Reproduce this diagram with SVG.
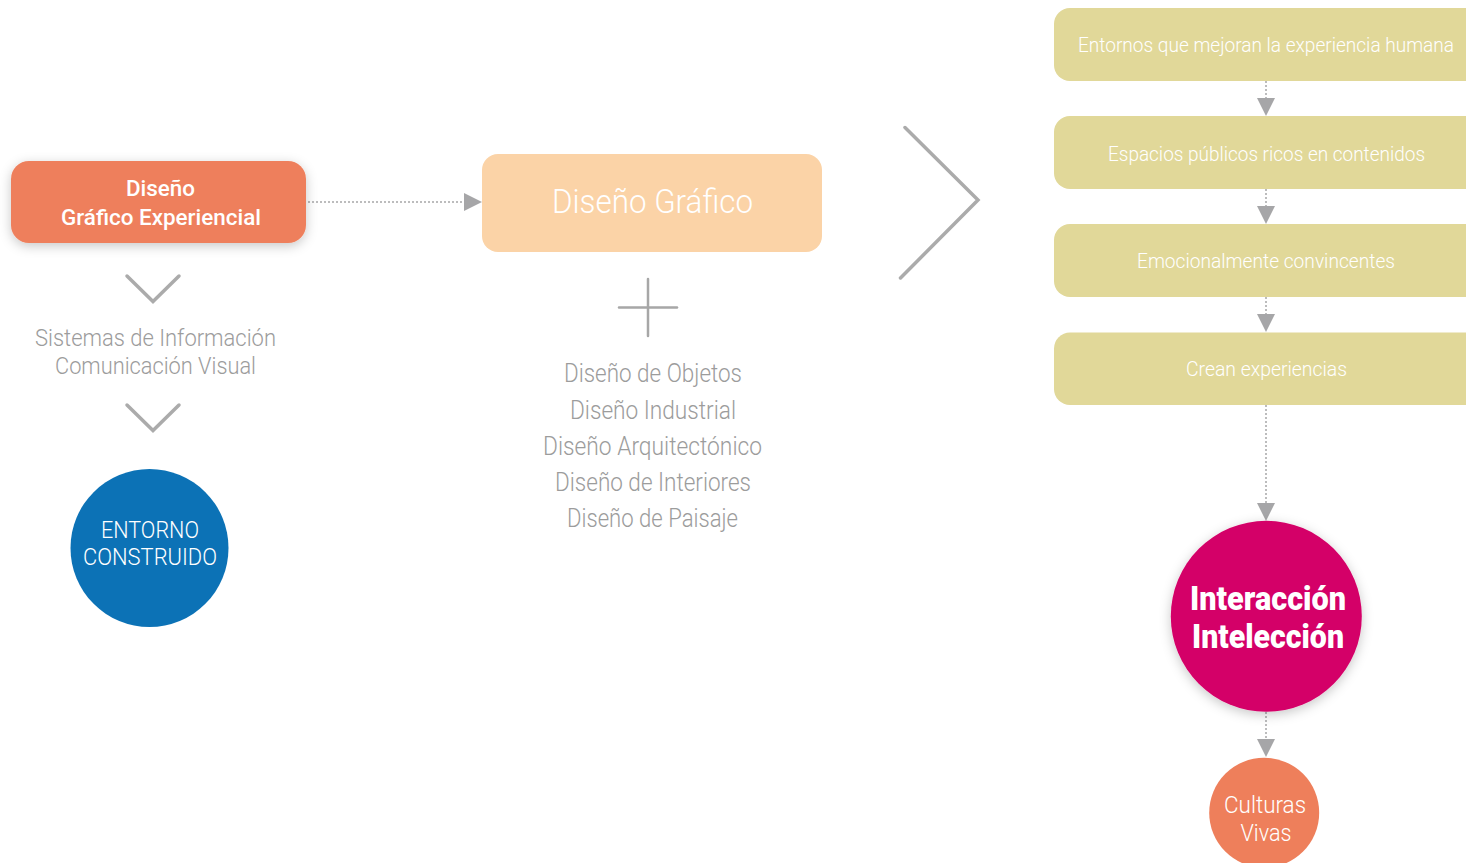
<svg xmlns="http://www.w3.org/2000/svg" width="1466" height="863" viewBox="0 0 1466 863">
  <defs>
    <filter id="shadow" x="-20%" y="-30%" width="140%" height="160%">
      <feDropShadow dx="0" dy="3" stdDeviation="6" flood-color="#000" flood-opacity="0.22"/>
    </filter>
    <marker id="tri" viewBox="0 0 20 18" refX="0" refY="9" markerWidth="20" markerHeight="18" markerUnits="userSpaceOnUse" orient="auto">
      <path d="M0,0 L18,9 L0,18 Z" fill="#a6a6a8"/>
    </marker>
  </defs>
  <style>
    .lt { font-family: Roboto, "Liberation Sans", sans-serif; font-weight: 300; }
    .md { font-family: Roboto, "Liberation Sans", sans-serif; font-weight: 500; }
    .bd { font-family: Roboto, "Liberation Sans", sans-serif; font-weight: 900; }
    .white { fill: #ffffff; }
    .gray { fill: #9c9c9c; }
    .conn { stroke: #a6a6a8; stroke-width: 1.5; stroke-dasharray: 2 2; fill: none; }
    .chev { stroke: #ababab; stroke-width: 3.5; fill: none; stroke-linecap: round; stroke-linejoin: miter; }
    .band { fill: #e1d899; }
  </style>

  <rect width="1466" height="863" fill="#ffffff"/>

  <!-- connectors -->
  <g id="connectors">
    <line class="conn" x1="308" y1="202" x2="464" y2="202" marker-end="url(#tri)"/>
    <line class="conn" x1="1266" y1="81" x2="1266" y2="98" marker-end="url(#tri)"/>
    <line class="conn" x1="1266" y1="189" x2="1266" y2="206" marker-end="url(#tri)"/>
    <line class="conn" x1="1266" y1="297" x2="1266" y2="314" marker-end="url(#tri)"/>
    <line class="conn" x1="1266" y1="405" x2="1266" y2="503" marker-end="url(#tri)"/>
    <line class="conn" x1="1266" y1="712" x2="1266" y2="739" marker-end="url(#tri)"/>
  </g>

  <!-- left column -->
  <g id="node-dge">
    <rect x="11" y="161" width="295" height="82" rx="18" fill="#ee7f5b" filter="url(#shadow)"/>
    <text class="md white" x="126" y="196" font-size="22" textLength="69" lengthAdjust="spacingAndGlyphs">Diseño</text>
    <text class="md white" x="61" y="225" font-size="22" textLength="200" lengthAdjust="spacingAndGlyphs">Gráfico Experiencial</text>
  </g>

  <g id="chevron-left-1">
    <polyline class="chev" points="127,276 153,301.5 179,276"/>
  </g>

  <g id="node-sistemas">
    <text class="lt gray" x="35" y="346" font-size="24" textLength="241" lengthAdjust="spacingAndGlyphs">Sistemas de Información</text>
    <text class="lt gray" x="55" y="374" font-size="24" textLength="201" lengthAdjust="spacingAndGlyphs">Comunicación Visual</text>
  </g>

  <g id="chevron-left-2">
    <polyline class="chev" points="127,405 153,430.5 179,405"/>
  </g>

  <g id="node-entorno">
    <circle cx="149.5" cy="548" r="79" fill="#0c72b6"/>
    <text class="lt white" x="101" y="538" font-size="23" textLength="98" lengthAdjust="spacingAndGlyphs">ENTORNO</text>
    <text class="lt white" x="83" y="565" font-size="23" textLength="134" lengthAdjust="spacingAndGlyphs">CONSTRUIDO</text>
  </g>

  <!-- middle column -->
  <g id="node-dg">
    <rect x="482" y="154" width="340" height="98" rx="16" fill="#fbd3a7"/>
    <text class="lt white" x="552" y="213" font-size="33" textLength="201" lengthAdjust="spacingAndGlyphs">Diseño Gráfico</text>
  </g>

  <g id="plus">
    <line x1="648" y1="279" x2="648" y2="336" stroke="#a7a7a7" stroke-width="2.5" stroke-linecap="round"/>
    <line x1="619" y1="307.5" x2="677" y2="307.5" stroke="#a7a7a7" stroke-width="2.5" stroke-linecap="round"/>
  </g>

  <g id="node-disciplinas">
    <text class="lt gray" x="564" y="382" font-size="25" textLength="178" lengthAdjust="spacingAndGlyphs">Diseño de Objetos</text>
    <text class="lt gray" x="570" y="419" font-size="25" textLength="166" lengthAdjust="spacingAndGlyphs">Diseño Industrial</text>
    <text class="lt gray" x="543" y="455" font-size="25" textLength="219" lengthAdjust="spacingAndGlyphs">Diseño Arquitectónico</text>
    <text class="lt gray" x="555" y="491" font-size="25" textLength="196" lengthAdjust="spacingAndGlyphs">Diseño de Interiores</text>
    <text class="lt gray" x="567" y="527" font-size="25" textLength="171" lengthAdjust="spacingAndGlyphs">Diseño de Paisaje</text>
  </g>

  <g id="chevron-big">
    <polyline class="chev" points="905,127.5 978,200 900.5,278"/>
  </g>

  <!-- right column -->
  <g id="node-entornos">
    <rect class="band" x="1054" y="8" width="440" height="73" rx="16"/>
    <text class="lt white" x="1078" y="51.5" font-size="21" textLength="376" lengthAdjust="spacingAndGlyphs">Entornos que mejoran la experiencia humana</text>
  </g>
  <g id="node-espacios">
    <rect class="band" x="1054" y="116" width="440" height="73" rx="16"/>
    <text class="lt white" x="1108" y="160.5" font-size="21" textLength="317" lengthAdjust="spacingAndGlyphs">Espacios públicos ricos en contenidos</text>
  </g>
  <g id="node-emocional">
    <rect class="band" x="1054" y="224" width="440" height="73" rx="16"/>
    <text class="lt white" x="1137" y="268" font-size="21" textLength="258" lengthAdjust="spacingAndGlyphs">Emocionalmente convincentes</text>
  </g>
  <g id="node-crean">
    <rect class="band" x="1054" y="332.5" width="440" height="72.5" rx="16"/>
    <text class="lt white" x="1186" y="376" font-size="21" textLength="161" lengthAdjust="spacingAndGlyphs">Crean experiencias</text>
  </g>

  <g id="node-interaccion">
    <circle cx="1266.3" cy="616.3" r="95.5" fill="#d40068" filter="url(#shadow)"/>
    <text class="bd white" x="1190" y="610" font-size="34" textLength="156" lengthAdjust="spacingAndGlyphs">Interacción</text>
    <text class="bd white" x="1192" y="648" font-size="34" textLength="152" lengthAdjust="spacingAndGlyphs">Intelección</text>
  </g>

  <g id="node-culturas">
    <circle cx="1264.2" cy="812.7" r="55" fill="#ee7f5b"/>
    <text class="lt white" x="1224" y="812.5" font-size="23" textLength="82" lengthAdjust="spacingAndGlyphs">Culturas</text>
    <text class="lt white" x="1240.5" y="841" font-size="23" textLength="51" lengthAdjust="spacingAndGlyphs">Vivas</text>
  </g>
</svg>
